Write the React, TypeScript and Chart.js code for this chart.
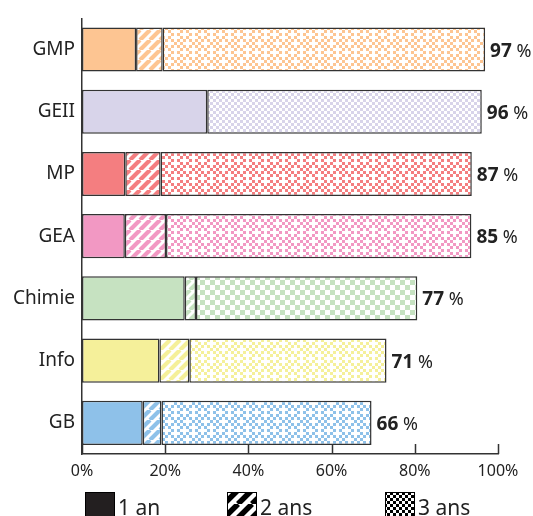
import React, { useEffect, useRef } from "react";
import { Chart, registerables } from "chart.js";

Chart.register(...registerables);

const categories = ["GMP", "GEII", "MP", "GEA", "Chimie", "Info", "GB"];
const oneYear = [13.0, 30.1, 10.4, 10.3, 24.7, 18.6, 14.6];
const twoYears = [6.4, 0, 8.5, 9.9, 2.7, 7.2, 4.5];
const threeYears = [77.5, 66.0, 74.8, 73.4, 53.2, 47.4, 50.5];
const totalLabels = [97, 96, 87, 85, 77, 71, 66];
const xTickValues = [0, 20, 40, 60, 80, 100];
const seriesNames = ["1 an", "2 ans", "3 ans"];
const barColors = ["#FDC592", "#D8D4EA", "#F47E80", "#F298C3", "#C6E2C1", "#F5F09A", "#8EC1E9"];
const checkerKinds = ["cross", "fine", "cross", "cross", "big", "cross", "cross"];

const FONT = "'Noto Sans', 'DejaVu Sans', sans-serif";
const TEXT = "#222";
const LINE = "#333";

function makeTile(w: number, h: number, draw: (g: CanvasRenderingContext2D) => void): CanvasPattern {
  const c = document.createElement("canvas");
  c.width = w;
  c.height = h;
  const g = c.getContext("2d")!;
  draw(g);
  return g.createPattern(c, "repeat")!;
}

function stripes(color: string, size = 10, lw = 4.2): CanvasPattern {
  return makeTile(size, size, (g) => {
    g.fillStyle = "#fff";
    g.fillRect(0, 0, size, size);
    g.strokeStyle = color;
    g.lineWidth = lw;
    g.beginPath();
    for (const o of [-size, 0, size]) {
      g.moveTo(o, size);
      g.lineTo(o + size, 0);
    }
    g.stroke();
  });
}

function cellPattern(color: string, map: string[], cell: number): CanvasPattern {
  const rows = map.length;
  const cols = map[0].length;
  return makeTile(cols * cell, rows * cell, (g) => {
    g.fillStyle = "#fff";
    g.fillRect(0, 0, cols * cell, rows * cell);
    g.fillStyle = color;
    for (let r = 0; r < rows; r++) {
      for (let c = 0; c < cols; c++) {
        if (map[r][c] === "X") g.fillRect(c * cell, r * cell, cell, cell);
      }
    }
  });
}

const crossMap = ["X.X...", ".X.X.X", "X...X.", ".X.X.X", "X.X...", "...X.X"];
const checkMap = ["X.", ".X"];

function checker(color: string, kind: string): CanvasPattern {
  if (kind === "fine") return cellPattern(color, checkMap, 3);
  if (kind === "big") return cellPattern(color, checkMap, 5);
  return cellPattern(color, crossMap, 3);
}

const overlayPlugin = {
  id: "overlay",
  afterDraw(chart: any) {
    const ctx: CanvasRenderingContext2D = chart.ctx;
    const xs = chart.scales.x;
    const ca = chart.chartArea;
    ctx.save();
    // inner ticks on x axis
    ctx.strokeStyle = LINE;
    ctx.lineWidth = 1.5;
    ctx.beginPath();
    for (const v of xTickValues) {
      const px = Math.round(xs.getPixelForValue(v)) + 0.5;
      ctx.moveTo(px, ca.bottom);
      ctx.lineTo(px, ca.bottom - 10);
    }
    ctx.stroke();

    // value labels
    const meta = chart.getDatasetMeta(2);
    ctx.textBaseline = "alphabetic";
    ctx.textAlign = "left";
    meta.data.forEach((el: any, i: number) => {
      const x = el.x + 5;
      const y = el.y + 7;
      const num = String(totalLabels[i]);
      ctx.fillStyle = TEXT;
      ctx.font = `bold 19px ${FONT}`;
      ctx.fillText(num, x, y);
      const w = ctx.measureText(num).width;
      ctx.font = `400 18px ${FONT}`;
      ctx.fillText(" %", x + w, y);
    });

    // legend
    const legendPats: (string | CanvasPattern)[] = [
      "#231f20",
      stripes("#000", 14, 5.5),
      cellPattern("#000", checkMap, 3),
    ];
    const boxXs = [85, 227, 385];
    const boxTop = 492;
    const boxW = 30;
    const boxH = 30;
    ctx.font = `400 21px ${FONT}`;
    ctx.textBaseline = "alphabetic";
    seriesNames.forEach((name, i) => {
      const bx = boxXs[i];
      ctx.fillStyle = legendPats[i] as any;
      ctx.fillRect(bx, boxTop, boxW, boxH);
      ctx.strokeStyle = "#000";
      ctx.lineWidth = 1;
      ctx.strokeRect(bx + 0.5, boxTop + 0.5, boxW - 1, boxH - 1);
      ctx.fillStyle = TEXT;
      ctx.fillText(name, bx + boxW + 3, 515);
    });
    ctx.restore();
  },
};

export default function App() {
  const ref = useRef<HTMLCanvasElement | null>(null);

  useEffect(() => {
    if (!ref.current) return;
    const solid = barColors.slice();
    const striped = barColors.map((c) => stripes(c));
    const checked = barColors.map((c, i) => checker(c, checkerKinds[i]));

    const common = {
      borderColor: LINE,
      borderWidth: 1.5,
      borderSkipped: false,
      barPercentage: 0.71,
      categoryPercentage: 1,
    };

    const chart = new Chart(ref.current, {
      type: "bar",
      data: {
        labels: categories,
        datasets: [
          { label: seriesNames[0], data: oneYear, backgroundColor: solid, ...common },
          { label: seriesNames[1], data: twoYears, backgroundColor: striped as any, ...common },
          { label: seriesNames[2], data: threeYears, backgroundColor: checked as any, ...common },
        ],
      },
      options: {
        indexAxis: "y",
        responsive: false,
        animation: false,
        devicePixelRatio: 1,
        layout: { padding: { top: 10, right: 35, left: 0, bottom: 0 } },
        plugins: {
          legend: { display: false },
          tooltip: { enabled: false },
        },
        scales: {
          x: {
            stacked: true,
            min: 0,
            max: 100,
            afterFit: (s: any) => {
              s.height = 62;
            },
            afterBuildTicks: (s: any) => {
              s.ticks = xTickValues.map((v) => ({ value: v }));
            },
            ticks: {
              callback: (v: any) => `${v}%`,
              color: TEXT,
              font: { family: FONT, size: 16 },
              padding: 8,
              maxRotation: 0,
            },
            grid: { display: false, drawTicks: false },
            border: { display: true, color: LINE, width: 1.5 },
          },
          y: {
            stacked: true,
            afterFit: (s: any) => {
              s.width = 82;
            },
            ticks: {
              color: TEXT,
              font: { family: FONT, size: 19 },
              padding: 7,
            },
            grid: { display: false, drawTicks: false },
            border: { display: true, color: LINE, width: 1.5 },
          },
        },
      } as any,
      plugins: [overlayPlugin],
    });
    return () => chart.destroy();
  }, []);

  return (
    <div style={{ position: "fixed", left: 0, top: 0, width: 533, height: 516, background: "#fff" }}>
      <canvas ref={ref} width={533} height={516} style={{ display: "block" }} />
    </div>
  );
}
